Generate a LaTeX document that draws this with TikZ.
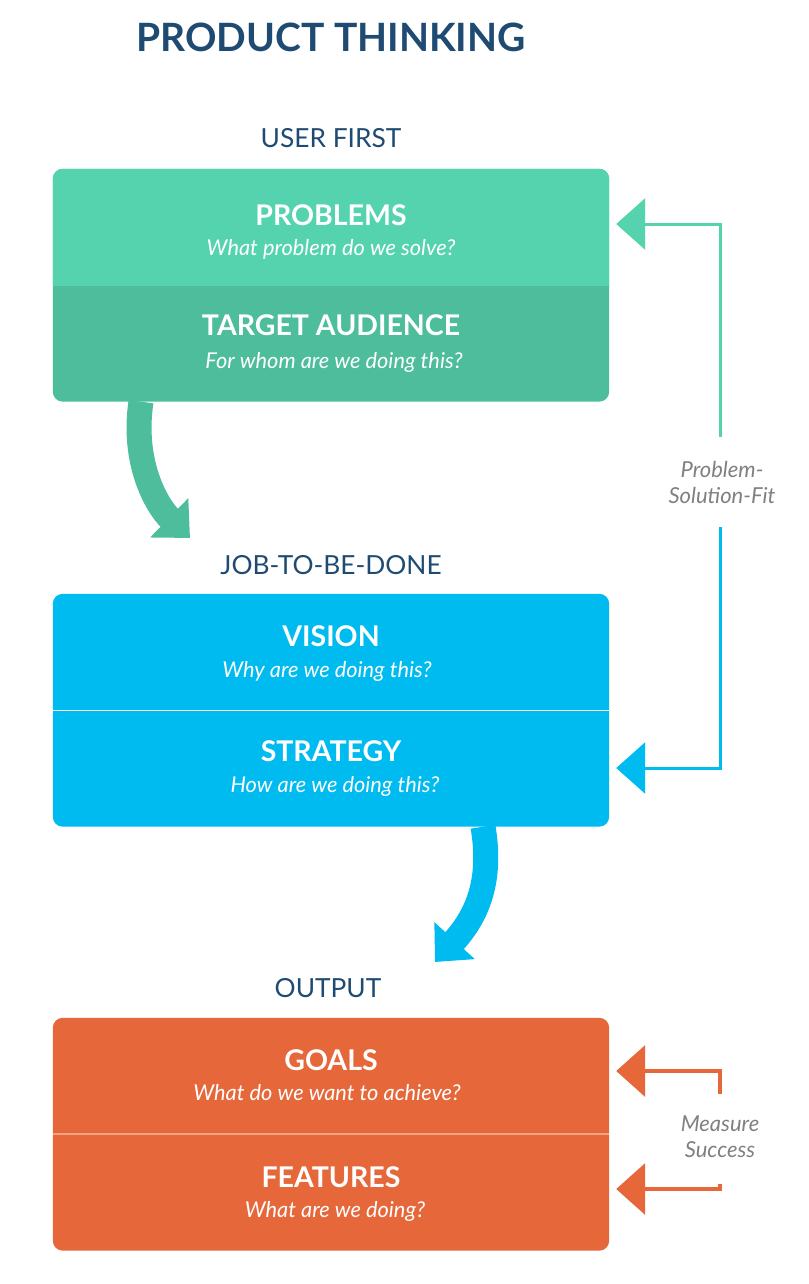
\documentclass[tikz,border=0pt]{standalone}
\usepackage{fontspec}
\setmainfont{Lato}
\usetikzlibrary{arrows.meta}
\definecolor{navy}{HTML}{1F4B73}
\definecolor{gA}{HTML}{55D3AE}
\definecolor{gB}{HTML}{4DBD9B}
\definecolor{bA}{HTML}{00BBF0}
\definecolor{oA}{HTML}{E6683A}
\definecolor{oL}{HTML}{F2A483}
\definecolor{grayT}{HTML}{808080}
\tikzset{
  sect/.style={rectangle, draw=none, minimum width=556pt, minimum height=116pt, inner sep=0pt},
  head/.style={anchor=base, text=white, font=\fontsize{28.5}{31}\selectfont\bfseries, inner sep=0pt},
  sub/.style={anchor=base, text=white, font=\fontsize{21.8}{24}\selectfont\itshape, inner sep=0pt},
  lbl/.style={anchor=base, text=navy, font=\fontsize{26.3}{29}\selectfont, inner sep=0pt},
  side/.style={align=center, text=grayT, font=\fontsize{22}{26}\selectfont\itshape, inner sep=0pt},
  fb/.style={line width=3pt, -{Triangle[length=29pt,width=51pt]}, shorten >=7pt},
  big/.style={line width=25pt, -{Triangle[length=29pt,width=53pt]}},
}
\begin{document}
\begin{tikzpicture}[x=1pt,y=-1pt]
\useasboundingbox (0,0) rectangle (808,1284);

% title and labels
\node[anchor=base, text=navy, font=\fontsize{39}{43}\selectfont\bfseries, inner sep=0pt] (title) at (331,52) {PRODUCT THINKING};
\node[lbl] (userfirst) at (331,148) {USER FIRST};
\node[lbl] (jtbd) at (331,574) {JOB-TO-BE-DONE};
\node[lbl] (output) at (328,997) {OUTPUT};

% section nodes
\node[sect] (problems) at (331,227) {};
\node[sect] (audience) at (331,343.5) {};
\node[sect] (vision) at (331,652) {};
\node[sect] (strategy) at (331,768.5) {};
\node[sect] (goals) at (331,1076) {};
\node[sect] (features) at (331,1192.5) {};

% fills
\fill[gB, rounded corners=10pt] (problems.north west) rectangle (audience.south east);
\begin{scope}
\clip (problems.north west) rectangle (problems.south east);
\fill[gA, rounded corners=10pt] (problems.north west) rectangle (audience.south east);
\end{scope}
\fill[bA, rounded corners=10pt] (vision.north west) rectangle (strategy.south east);
\draw[white, line width=1pt] (vision.south west) -- (vision.south east);
\fill[oA, rounded corners=10pt] (goals.north west) rectangle (features.south east);
\draw[oL, line width=1.5pt] (goals.south west) -- (goals.south east);

% texts
\node[head] (problemsH) at (331,225) {PROBLEMS};
\node[sub] (problemsS) at (331,255) {What problem do we solve?};
\node[head] (audienceH) at (331,335) {TARGET AUDIENCE};
\node[sub] (audienceS) at (334,368) {For whom are we doing this?};
\node[head] (visionH) at (331,646) {VISION};
\node[sub] (visionS) at (327,677) {Why are we doing this?};
\node[head] (strategyH) at (331,761) {STRATEGY};
\node[sub] (strategyS) at (335,792) {How are we doing this?};
\node[head] (goalsH) at (331,1070) {GOALS};
\node[sub] (goalsS) at (327,1100) {What do we want to achieve?};
\node[head] (featuresH) at (331,1187) {FEATURES};
\node[sub] (featuresS) at (335,1217) {What are we doing?};

% side labels
\node[side] (psf) at (722,482) {Problem-\\Solution-Fit};
\node[side] (ms) at (720,1137) {Measure\\Success};

\coordinate (psfTop) at (720,437);
\coordinate (psfBot) at (720,527);
\coordinate (msTop) at (720,1094);
\coordinate (msBot) at (720,1184);

\draw[fb, gA] (psfTop) |- ([yshift=3pt]problems.east);
\draw[fb, bA] (psfBot) |- ([yshift=0.5pt]strategy.east);
\draw[fb, oA, line width=4pt] (msTop) |- ([yshift=5pt]goals.east);
\draw[fb, oA, line width=4pt] (msBot) |- ([yshift=3.5pt]features.east);

% big curved arrows
\coordinate (gEnd) at (190,538);
\coordinate (bEnd) at (435,962);
\draw[big, gB] ([xshift=-190pt]audience.south) .. controls +(-9,60) and (156,505) .. (gEnd);
\draw[big, bA] ([xshift=152pt]strategy.south) .. controls +(9,53) and (478,915) .. (bEnd);
\end{tikzpicture}
\end{document}
